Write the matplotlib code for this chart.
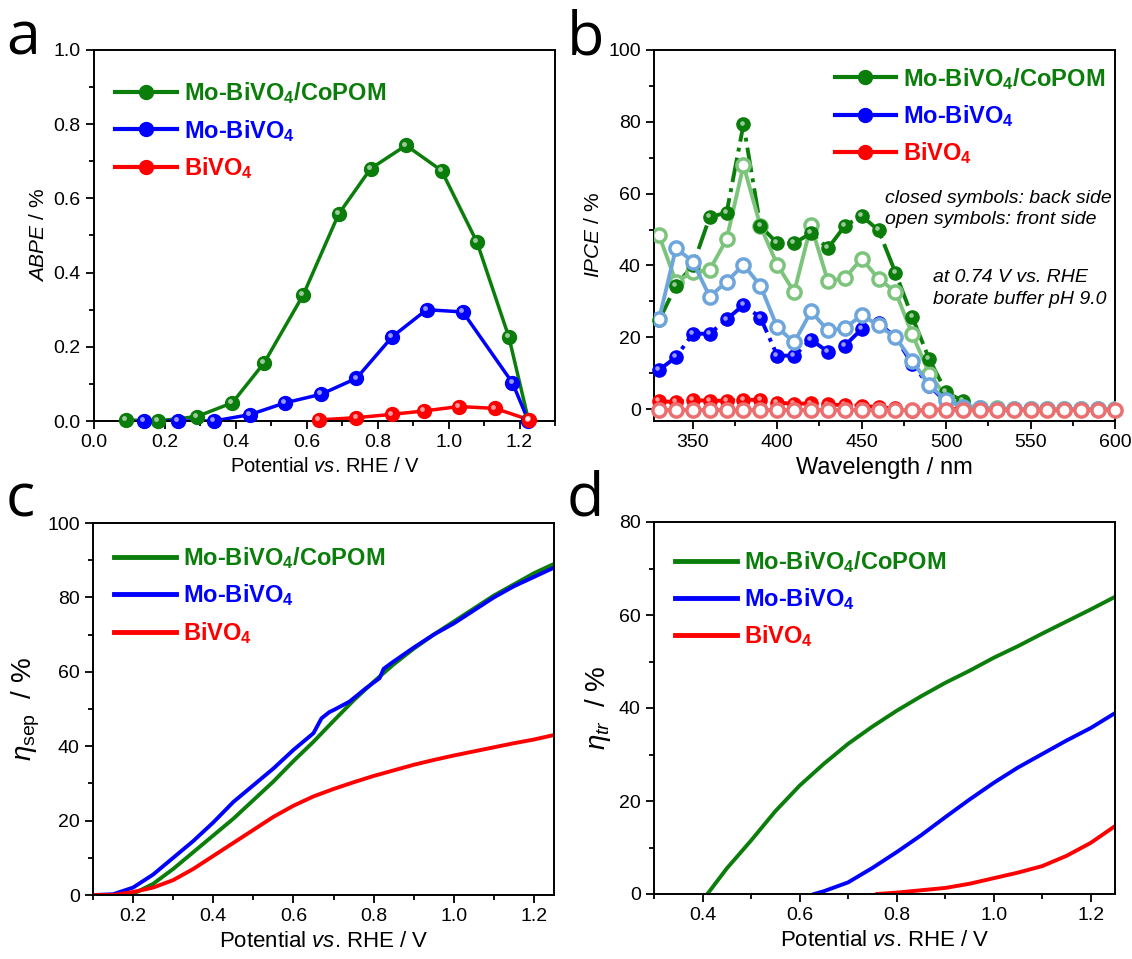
import numpy as np
import matplotlib
matplotlib.use("Agg")
import matplotlib.pyplot as plt
from matplotlib.lines import Line2D
from matplotlib.ticker import MultipleLocator
from matplotlib import transforms

plt.rcParams["font.family"] = ["Liberation Sans", "DejaVu Sans"]
plt.rcParams["mathtext.fontset"] = "custom"
plt.rcParams["mathtext.rm"] = "Liberation Sans"
plt.rcParams["mathtext.it"] = "Liberation Sans:italic"
plt.rcParams["mathtext.bf"] = "Liberation Sans:bold"

GREEN = "#0b7d0b"
BLUE = "#0000ff"
RED = "#ff0000"
LGREEN = "#7cc47c"
LBLUE = "#6ea6dc"
LRED = "#ec6f6f"

# ---- panel a: ABPE ----
abpe_x_cop = [0.09, 0.18, 0.29, 0.39, 0.48, 0.59, 0.69, 0.78, 0.88, 0.98, 1.08, 1.17, 1.225]
abpe_cop = [0.003, 0.0, 0.012, 0.049, 0.157, 0.34, 0.558, 0.68, 0.743, 0.675, 0.482, 0.226, 0.003]
abpe_x_mo = [0.14, 0.236, 0.338, 0.439, 0.539, 0.64, 0.74, 0.841, 0.938, 1.04, 1.18, 1.225]
abpe_mo = [0.0, 0.0, 0.0, 0.017, 0.049, 0.072, 0.115, 0.227, 0.30, 0.294, 0.103, 0.0]
abpe_x_bi = [0.635, 0.74, 0.841, 0.93, 1.029, 1.131, 1.228]
abpe_bi = [0.003, 0.009, 0.018, 0.027, 0.039, 0.034, 0.003]

# ---- panel b: IPCE ----
wl_closed = [330, 340, 350, 360, 370, 380, 390, 400, 410, 420, 430, 440, 450, 460, 470, 480, 490, 500, 510]
wl_open = [330, 340, 350, 360, 370, 380, 390, 400, 410, 420, 430, 440, 450, 460, 470, 480, 490, 500, 510,
           520, 530, 540, 550, 560, 570, 580, 590, 600]
ipce_cop_back = [24.7, 34.4, 40, 53.5, 54.7, 79.3, 51, 46.2, 46.2, 49, 44.8, 51, 53.8, 49.8, 38, 25.6, 13.9, 4.8, 2.2]
ipce_cop_front = [48.4, 35.5, 38.1, 38.8, 47.3, 67.9, 51, 40.2, 32.6, 51.2, 35.6, 36.5, 41.9, 36.3, 32.7, 20.8, 9.9, 3.4, 1.0,
                  0.4, 0.2, 0.1, 0.0, 0.0, 0.0, 0.0, 0.0, 0.0]
ipce_mo_back = [10.9, 14.5, 21, 21, 25, 29, 25.5, 14.9, 14.9, 19.3, 16, 17.7, 22.3, 24, 20, 12.5, 6.5, 2, 0.5]
ipce_mo_front = [25.1, 44.8, 41.1, 31.3, 35.5, 40.2, 34.4, 22.8, 18.6, 27.2, 21.9, 22.5, 26.2, 23.3, 20, 13.4, 6.7, 2.5, 0.5,
                 0.2, 0.0, 0.0, 0.0, 0.0, 0.0, 0.0, 0.0, 0.0]
ipce_bi_back = [2.2, 2.0, 2.6, 2.3, 2.4, 2.6, 2.6, 1.8, 1.5, 1.6, 1.3, 1.1, 1.0, 0.5, 0.2, -0.5, -0.3, 0.0, 0.0]
ipce_bi_front = [-0.3] * 28

# ---- panel c: separation efficiency ----
sep_x = [0.10, 0.15, 0.20, 0.25, 0.30, 0.35, 0.40, 0.45, 0.50, 0.55, 0.60, 0.65, 0.70, 0.75, 0.80,
         0.85, 0.90, 0.95, 1.00, 1.05, 1.10, 1.15, 1.20, 1.25]
sep_cop = [0, 0, 0.3, 3, 7, 11.5, 16, 20.5, 25.5, 30.5, 36, 41.2, 46.8, 52.3, 57.3,
           62, 66.2, 70, 73.5, 77, 80.5, 83.5, 86.5, 89]
sep_x_mo = [0.10, 0.15, 0.20, 0.25, 0.30, 0.35, 0.40, 0.45, 0.50, 0.55, 0.60, 0.65, 0.655, 0.67, 0.69, 0.70,
            0.74, 0.78, 0.815, 0.825, 0.845, 0.90, 0.95, 1.00, 1.05, 1.10, 1.15, 1.20, 1.25]
sep_mo = [0, 0.2, 2, 5.5, 10, 14.5, 19.5, 25, 29.5, 34, 39, 43.5, 44.5, 47.5, 49.2, 49.7,
          52, 55.5, 58.3, 60.8, 62.4, 66.5, 70, 73, 76.5, 80, 83, 85.5, 88]
sep_bi = [0, 0, 0.8, 2, 4, 7, 10.5, 14, 17.5, 21, 24, 26.5, 28.5, 30.3, 32,
          33.5, 35, 36.3, 37.5, 38.6, 39.7, 40.8, 41.8, 43]

# ---- panel d: transfer efficiency ----
tr_x_cop = [0.41, 0.45, 0.50, 0.55, 0.60, 0.65, 0.70, 0.75, 0.80, 0.85, 0.90, 0.95, 1.00, 1.05, 1.10, 1.15, 1.20, 1.25]
tr_cop = [0, 5.5, 11.5, 17.8, 23.3, 28, 32.3, 36, 39.4, 42.5, 45.4, 48, 50.8, 53.3, 56, 58.6, 61.2, 63.9]
tr_x_mo = [0.63, 0.65, 0.70, 0.75, 0.80, 0.85, 0.90, 0.95, 1.00, 1.05, 1.10, 1.15, 1.20, 1.25]
tr_mo = [0, 0.6, 2.5, 5.6, 9.0, 12.6, 16.5, 20.3, 23.9, 27.2, 30.1, 33, 35.7, 38.9]
tr_x_bi = [0.76, 0.80, 0.85, 0.90, 0.95, 1.00, 1.05, 1.10, 1.15, 1.20, 1.25]
tr_bi = [0, 0.3, 0.8, 1.3, 2.2, 3.4, 4.6, 6.0, 8.2, 11.0, 14.6]

labels = [r"Mo-BiVO$_\mathbf{4}$/CoPOM", r"Mo-BiVO$_\mathbf{4}$", r"BiVO$_\mathbf{4}$"]
colors = [GREEN, BLUE, RED]

fig = plt.figure(figsize=(11.32, 9.59), dpi=100)
W, H = 1132, 959


def make_ax(left, top, right, bottom):
    return fig.add_axes([left / W, 1 - bottom / H, (right - left) / W, (bottom - top) / H])


def style(ax):
    for s in ax.spines.values():
        s.set_linewidth(1.4)
    ax.tick_params(which="both", direction="out", top=False, right=False, labelsize=14, width=1.3)
    ax.tick_params(which="major", length=6)
    ax.tick_params(which="minor", length=3.5)


def spheres(ax, x, y, color, size=10):
    ax.plot(x, y, "o", ms=size, color=color, mec=color, zorder=5, clip_on=False)
    hl = transforms.offset_copy(ax.transData, fig=fig, x=-1.8, y=1.8, units="dots")
    ax.plot(x, y, "o", ms=size * 0.35, color="white", mec="none", alpha=0.6, transform=hl, zorder=6, clip_on=False)


def legend(ax, with_marker, loc, anchor):
    handles = []
    for lab, c in zip(labels, colors):
        if with_marker:
            handles.append(Line2D([], [], color=c, lw=3, marker="o", ms=10, label=lab))
        else:
            handles.append(Line2D([], [], color=c, lw=3.5, label=lab))
    leg = ax.legend(handles=handles, loc=loc, bbox_to_anchor=anchor, frameon=False,
                    prop={"weight": "bold", "size": 17}, handlelength=2.6, handletextpad=0.3,
                    labelspacing=0.48, labelcolor="linecolor", markerscale=1.0)
    return leg


# panel a
ax = make_ax(94, 50, 555, 421)
ax.plot(abpe_x_cop, abpe_cop, color=GREEN, lw=2.5)
spheres(ax, abpe_x_cop, abpe_cop, GREEN)
ax.plot(abpe_x_mo, abpe_mo, color=BLUE, lw=2.5)
spheres(ax, abpe_x_mo, abpe_mo, BLUE)
ax.plot(abpe_x_bi, abpe_bi, color=RED, lw=2.5)
spheres(ax, abpe_x_bi, abpe_bi, RED)
ax.set_xlim(0, 1.3)
ax.set_ylim(0, 1.0)
ax.xaxis.set_major_locator(MultipleLocator(0.2))
ax.xaxis.set_minor_locator(MultipleLocator(0.1))
ax.yaxis.set_major_locator(MultipleLocator(0.2))
ax.yaxis.set_minor_locator(MultipleLocator(0.1))
ax.xaxis.set_major_formatter(lambda v, p: f"{v:.1f}")
ax.yaxis.set_major_formatter(lambda v, p: f"{v:.1f}")
style(ax)
ax.set_xlabel(r"Potential $\it{vs}$. RHE / V", fontsize=14.5)
ax.set_ylabel(r"$\it{ABPE}$ / %", fontsize=15)
legend(ax, True, "upper left", (0.0, 0.975))
ax.text(-0.19, 1.032, "a", transform=ax.transAxes, fontsize=44, family="Open Sans", va="center", ha="left")

# panel b
ax = make_ax(654, 50, 1115, 421)
ax.plot(wl_closed, ipce_cop_back, color=GREEN, lw=2.8, ls="-.", zorder=3)
spheres(ax, wl_closed, ipce_cop_back, GREEN, 9.5)
ax.plot(wl_open, ipce_cop_front, color=LGREEN, lw=2.8, marker="o", ms=9.5, mfc="white", mec=LGREEN, mew=2.5, zorder=4)
ax.plot(wl_closed, ipce_mo_back, color=BLUE, lw=2.8, ls="-.", zorder=3)
spheres(ax, wl_closed, ipce_mo_back, BLUE, 9.5)
ax.plot(wl_open, ipce_mo_front, color=LBLUE, lw=2.8, marker="o", ms=9.5, mfc="white", mec=LBLUE, mew=2.5, zorder=6)
ax.plot(wl_closed, ipce_bi_back, color=RED, lw=2.8, ls="-.", zorder=6)
spheres(ax, wl_closed, ipce_bi_back, RED, 9.5)
ax.plot(wl_open, ipce_bi_front, color=LRED, lw=2.8, marker="o", ms=9.5, mfc="white", mec=LRED, mew=2.5, zorder=7,
        clip_on=False)
ax.set_xlim(327, 600)
ax.set_ylim(-3.3, 100)
ax.xaxis.set_major_locator(MultipleLocator(50))
ax.xaxis.set_minor_locator(MultipleLocator(25))
ax.yaxis.set_major_locator(MultipleLocator(20))
ax.yaxis.set_minor_locator(MultipleLocator(10))
style(ax)
ax.set_xlabel("Wavelength / nm", fontsize=17)
ax.set_ylabel(r"$\it{IPCE}$ / %", fontsize=15)
legend(ax, True, "upper right", (1.025, 1.015))
ax.text(0.502, 0.571, "closed symbols: back side\nopen symbols: front side", transform=ax.transAxes,
        fontsize=14, style="italic", ha="left", va="center", linespacing=1.35)
ax.text(0.605, 0.357, "at 0.74 V vs. RHE\nborate buffer pH 9.0", transform=ax.transAxes,
        fontsize=14, style="italic", ha="left", va="center", linespacing=1.35)
ax.text(-0.19, 1.032, "b", transform=ax.transAxes, fontsize=44, family="Open Sans", va="center", ha="left")

# panel c
ax = make_ax(93, 523, 554, 895)
ax.plot(sep_x, sep_cop, color=GREEN, lw=2.8)
ax.plot(sep_x_mo, sep_mo, color=BLUE, lw=2.8)
ax.plot(sep_x, sep_bi, color=RED, lw=2.8)
ax.set_xlim(0.1, 1.25)
ax.set_ylim(0, 100)
ax.xaxis.set_major_locator(MultipleLocator(0.2))
ax.xaxis.set_minor_locator(MultipleLocator(0.1))
ax.yaxis.set_major_locator(MultipleLocator(20))
ax.yaxis.set_minor_locator(MultipleLocator(10))
ax.xaxis.set_major_formatter(lambda v, p: f"{v:.1f}")
style(ax)
ax.set_xlabel(r"Potential $\it{vs}$. RHE / V", fontsize=16)
ax.set_ylabel(r"$\eta_{\rm sep}$  / %", fontsize=20)
legend(ax, False, "upper left", (0.0, 0.997))
ax.text(-0.19, 1.06, "c", transform=ax.transAxes, fontsize=44, family="Open Sans", va="center", ha="left")

# panel d
ax = make_ax(654, 522, 1115, 894)
ax.plot(tr_x_cop, tr_cop, color=GREEN, lw=2.8)
ax.plot(tr_x_mo, tr_mo, color=BLUE, lw=2.8)
ax.plot(tr_x_bi, tr_bi, color=RED, lw=2.8)
ax.set_xlim(0.3, 1.25)
ax.set_ylim(0, 80)
ax.xaxis.set_major_locator(MultipleLocator(0.2))
ax.xaxis.set_minor_locator(MultipleLocator(0.1))
ax.yaxis.set_major_locator(MultipleLocator(20))
ax.yaxis.set_minor_locator(MultipleLocator(10))
ax.xaxis.set_major_formatter(lambda v, p: f"{v:.1f}")
style(ax)
ax.set_xlabel(r"Potential $\it{vs}$. RHE / V", fontsize=16)
ax.set_ylabel(r"$\eta_{tr}$  / %", fontsize=20)
legend(ax, False, "upper left", (0.0, 0.985))
ax.text(-0.19, 1.06, "d", transform=ax.transAxes, fontsize=44, family="Open Sans", va="center", ha="left")

fig.savefig("out.png", dpi=100)
